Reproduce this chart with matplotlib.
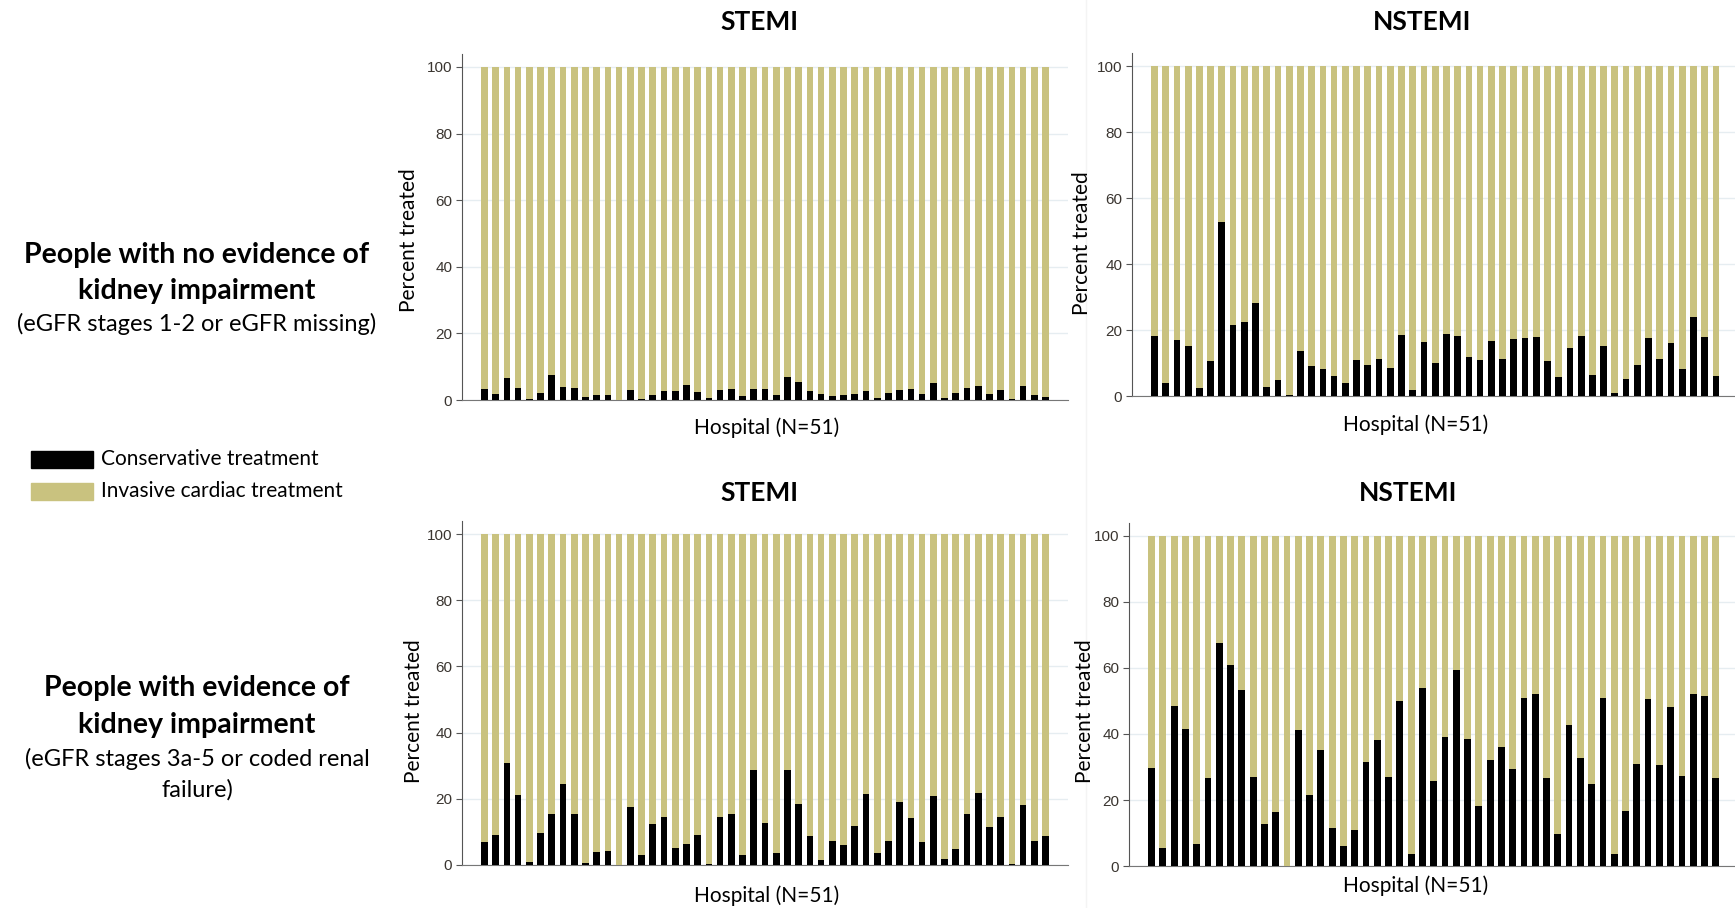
import matplotlib

matplotlib.use("Agg")
import matplotlib.pyplot as plt
import numpy as np
from matplotlib.lines import Line2D
from matplotlib.patches import Rectangle

# percent of patients given conservative treatment, one value per hospital
stemi_no_ckd = [
    3.3, 1.8, 6.5, 3.6, 0.2, 2.0, 7.5, 3.9, 3.6, 0.9,
    1.4, 1.5, 0.0, 3.1, 0.3, 1.4, 2.8, 2.8, 4.6, 2.4,
    0.6, 2.9, 3.2, 1.2, 3.3, 3.2, 1.4, 6.8, 5.5, 2.7,
    1.7, 1.1, 1.4, 1.8, 2.8, 0.7, 2.1, 3.0, 3.3, 1.7,
    5.0, 0.6, 2.1, 3.6, 4.3, 1.8, 3.0, 0.2, 4.1, 1.5,
    1.0,
]
nstemi_no_ckd = [
    18.2, 3.9, 17.0, 15.2, 2.4, 10.5, 52.7, 21.4, 22.3, 28.1,
    2.6, 4.7, 0.2, 13.7, 9.1, 8.1, 6.0, 3.9, 10.9, 9.4,
    11.2, 8.5, 18.5, 1.8, 16.4, 9.9, 18.9, 18.1, 11.8, 10.9,
    16.6, 11.2, 17.3, 17.6, 17.9, 10.6, 5.7, 14.6, 18.2, 6.3,
    15.2, 1.0, 5.2, 9.4, 17.6, 11.3, 16.0, 8.3, 23.8, 17.8,
    6.2,
]
stemi_ckd = [
    6.8, 9.0, 30.9, 21.1, 0.9, 9.7, 15.3, 24.5, 15.4, 0.7,
    4.0, 4.2, 0.0, 17.4, 2.9, 12.5, 14.4, 5.2, 6.4, 9.2,
    0.4, 14.6, 15.5, 3.1, 28.7, 12.6, 3.7, 28.7, 18.5, 8.7,
    1.5, 7.2, 6.0, 11.7, 21.5, 3.5, 7.4, 19.1, 14.2, 6.8,
    20.9, 1.8, 4.9, 15.3, 21.8, 11.4, 14.6, 0.4, 18.0, 7.1,
    8.8,
]
nstemi_ckd = [
    29.6, 5.4, 48.6, 41.6, 6.8, 26.6, 67.6, 60.8, 53.3, 27.1,
    12.8, 16.4, 0.0, 41.3, 21.6, 35.1, 11.6, 6.2, 10.8, 31.4,
    38.3, 27.0, 50.1, 3.6, 54.0, 25.9, 39.2, 59.4, 38.6, 18.1,
    32.1, 36.1, 29.5, 50.9, 52.0, 26.7, 9.8, 42.8, 32.6, 24.9,
    50.9, 3.7, 16.7, 30.8, 50.6, 30.6, 48.2, 27.4, 52.2, 51.5,
    26.8,
]

yticks = [0, 20, 40, 60, 80, 100]
series_names = ["Conservative treatment", "Invasive cardiac treatment"]
row_bold = [
    ["People with no evidence of", "kidney impairment"],
    ["People with evidence of", "kidney impairment"],
]
row_sub = [
    ["(eGFR stages 1-2 or eGFR missing)"],
    ["(eGFR stages 3a-5 or coded renal", "failure)"],
]

BLACK = "#000000"
GOLD = "#c9c27f"
W, H = 1735, 908
TEXT_FONT = ["Lato", "DejaVu Sans"]
TICK_FONT = ["Liberation Sans Narrow", "Liberation Sans", "DejaVu Sans"]

# (left, right, y of 0, y of 100) in px, title xy, xlabel xy, ylabel xy, xlim right
panels = [
    (stemi_no_ckd, "STEMI", (462, 1068, 400, 67), (759, 22), (767, 428), (409, 240), 53.0),
    (nstemi_no_ckd, "NSTEMI", (1132, 1735, 396, 66), (1422, 22), (1416, 425), (1082, 243), 52.7),
    (stemi_ckd, "STEMI", (462, 1068, 865, 534), (759, 493), (767, 896), (414, 711), 53.0),
    (nstemi_ckd, "NSTEMI", (1129, 1735, 866, 536), (1408, 493), (1416, 886), (1085, 711), 52.7),
]


def _add_panel(fig, values, title, box, title_xy, xlabel_xy, ylabel_xy, xmax):
    left, right, y0, y100 = box
    ymax = 104
    top = y0 - ymax * (y0 - y100) / 100
    ax = fig.add_axes([left / W, 1 - y0 / H, (right - left) / W, (y0 - top) / H])
    x = np.arange(1, len(values) + 1)
    cons = np.array(values)
    ax.bar(x, cons, width=0.6, color=BLACK, zorder=3)
    ax.bar(x, 100 - cons, bottom=cons, width=0.6, color=GOLD, zorder=3)
    ax.set_xlim(-1, xmax)
    ax.set_ylim(0, ymax)
    ax.set_yticks(yticks)
    ax.set_xticks([])
    ax.yaxis.grid(True, color="#e6edf1", lw=1.0, zorder=0)
    for s in ("top", "right"):
        ax.spines[s].set_visible(False)
    ax.spines["left"].set_color("#555555")
    ax.spines["bottom"].set_color("#777777")
    ax.tick_params(axis="y", length=4, color="#555555", labelsize=11,
                   labelcolor="#3a3530", pad=3)
    for lab in ax.get_yticklabels():
        lab.set_family(TICK_FONT)
    fig.text(title_xy[0] / W, 1 - title_xy[1] / H, title, ha="center", va="center",
             fontsize=19, fontweight="bold", family=TEXT_FONT)
    fig.text(xlabel_xy[0] / W, 1 - xlabel_xy[1] / H, "Hospital (N=51)", ha="center",
             va="center", fontsize=15, family=TEXT_FONT)
    fig.text(ylabel_xy[0] / W, 1 - ylabel_xy[1] / H, "Percent treated", rotation=90,
             ha="center", va="center", fontsize=15, family=TEXT_FONT)
    return ax


fig = plt.figure(figsize=(W / 100, H / 100), dpi=100)

# faint divider between the left and right panel images
fig.add_artist(Line2D([1086 / W] * 2, [0, 1], transform=fig.transFigure,
                      color="#f4f4f4", lw=1))

for values, title, box, title_xy, xlabel_xy, ylabel_xy, xmax in panels:
    _add_panel(fig, values, title, box, title_xy, xlabel_xy, ylabel_xy, xmax)

# row descriptions on the left
for bold, sub, yb, ys in zip(row_bold, row_sub, [(255, 291), (688, 725)],
                             [(324,), (759, 790)]):
    for line, y in zip(bold, yb):
        fig.text(197 / W, 1 - y / H, line, ha="center", va="center", fontsize=20.5,
                 fontweight="bold", family=TEXT_FONT)
    for line, y in zip(sub, ys):
        fig.text(197 / W, 1 - y / H, line, ha="center", va="center", fontsize=17,
                 family=TEXT_FONT)

# legend
for name, color, yc in zip(series_names, [BLACK, GOLD], [459, 491]):
    fig.add_artist(Rectangle((31 / W, 1 - (yc + 8.5) / H), 62 / W, 17 / H,
                             transform=fig.transFigure, color=color))
    fig.text(101 / W, 1 - yc / H, name, ha="left", va="center", fontsize=15,
             family=TEXT_FONT)

fig.savefig("out.png", dpi=100)
